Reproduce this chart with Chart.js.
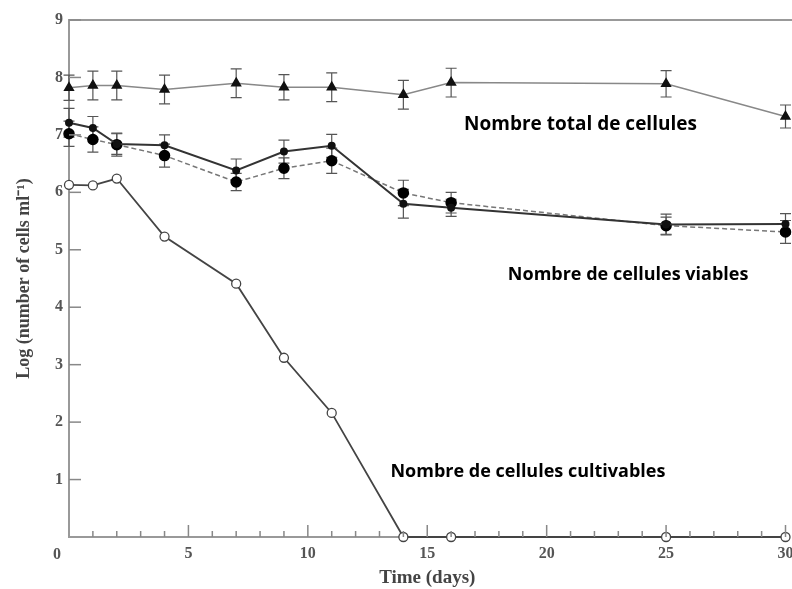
<!DOCTYPE html>
<html>
<head>
<meta charset="utf-8">
<script src="https://cdn.jsdelivr.net/npm/chart.js@4.4.1/dist/chart.umd.min.js"></script>
<style>
  html, body { margin: 0; padding: 0; background: #fff; overflow: hidden; }
  #wrap { width: 792px; height: 589px; position: relative; }
</style>
</head>
<body>
<div id="wrap"><canvas id="chart"></canvas></div>
<script>
// days of sampling
var days = [0, 1, 2, 4, 7, 9, 11, 14, 16, 25, 30];

// log(number of cells per ml)
var totalCells    = [7.82, 7.86, 7.86, 7.79, 7.90, 7.83, 7.83, 7.70, 7.91, 7.89, 7.32];
var totalErr      = [0.22, 0.25, 0.25, 0.25, 0.25, 0.22, 0.25, 0.25, 0.25, 0.23, 0.20];
var viableSolid   = [7.21, 7.12, 6.84, 6.82, 6.38, 6.71, 6.81, 5.80, 5.73, 5.44, 5.45];
var viableSolidErr= [0.25, 0.20, 0.18, 0.18, 0.20, 0.20, 0.20, 0.25, 0.15, 0.18, 0.18];
var viableDashed  = [7.02, 6.92, 6.83, 6.64, 6.18, 6.42, 6.55, 5.99, 5.82, 5.42, 5.31];
var viableDashedErr=[0.22, 0.22, 0.20, 0.20, 0.15, 0.18, 0.22, 0.22, 0.18, 0.15, 0.20];
var cultivable    = [6.13, 6.12, 6.24, 5.23, 4.41, 3.12, 2.16, 0, 0, 0, 0];

var yTicks = [0, 1, 2, 3, 4, 5, 6, 7, 8, 9];
var xTicks = [0, 5, 10, 15, 20, 25, 30];

var labelTexts = ["Nombre total de cellules", "Nombre de cellules viables", "Nombre de cellules cultivables"];

function pts(ys) {
	var out = [];
	for (var i = 0; i < days.length; i++) {
		out.push({ x: days[i], y: ys[i] });
	}
	return out;
}

var serif = "'Liberation Serif', 'Times New Roman', serif";

// error bars, inward ticks, top frame, origin label and text labels
var extras = {
	id: "extras",
	beforeDatasetsDraw: function(chart) {
		var ctx = chart.ctx;
		var xs = chart.scales.x, ys = chart.scales.y;
		ctx.save();
		ctx.strokeStyle = "#555";
		ctx.lineWidth = 1.2;
		chart.data.datasets.forEach(function(ds) {
			if (!ds.errors) return;
			ds.data.forEach(function(p, i) {
				var px = xs.getPixelForValue(p.x);
				var y1 = ys.getPixelForValue(p.y + ds.errors[i]);
				var y2 = ys.getPixelForValue(p.y - ds.errors[i]);
				ctx.beginPath();
				ctx.moveTo(px, y1); ctx.lineTo(px, y2);
				ctx.moveTo(px - 5.5, y1); ctx.lineTo(px + 5.5, y1);
				ctx.moveTo(px - 5.5, y2); ctx.lineTo(px + 5.5, y2);
				ctx.stroke();
			});
		});
		ctx.restore();
	},
	afterDraw: function(chart) {
		var ctx = chart.ctx;
		var a = chart.chartArea;
		var xs = chart.scales.x, ys = chart.scales.y;
		ctx.save();
		ctx.strokeStyle = "#999";
		ctx.lineWidth = 2;
		// top frame line
		ctx.beginPath();
		ctx.moveTo(a.left, a.top);
		ctx.lineTo(chart.width, a.top);
		ctx.stroke();
		// inward ticks on y
		ctx.strokeStyle = "#888";
		ctx.lineWidth = 1.5;
		yTicks.forEach(function(v) {
			if (v === 0) return;
			var py = ys.getPixelForValue(v);
			ctx.beginPath();
			ctx.moveTo(a.left, py); ctx.lineTo(a.left + 12, py);
			ctx.stroke();
		});
		// inward ticks on x, minor every day
		for (var d = 1; d <= 30; d++) {
			var px = xs.getPixelForValue(d);
			var len = (d % 5 === 0) ? 12 : 6;
			ctx.beginPath();
			ctx.moveTo(px, a.bottom); ctx.lineTo(px, a.bottom - len);
			ctx.stroke();
		}
		// shared origin label
		ctx.fillStyle = "#555";
		ctx.font = "bold 16px " + serif;
		ctx.textAlign = "center";
		ctx.textBaseline = "middle";
		ctx.fillText("0", a.left - 12, a.bottom + 18);

		// curve labels
		ctx.fillStyle = "#000";
		ctx.textAlign = "left";
		ctx.textBaseline = "alphabetic";
		var spots = [[16.54, 7.09, 19], [18.375, 4.48, 18], [13.46, 1.05, 18]];
		labelTexts.forEach(function(t, i) {
			ctx.font = "bold " + spots[i][2] + "px 'Open Sans', sans-serif";
			ctx.fillText(t, xs.getPixelForValue(spots[i][0]), ys.getPixelForValue(spots[i][1]));
		});
		ctx.restore();
	}
};

var ctx = document.getElementById("chart");

var data = {
	datasets : [
		{
			label : "Total",
			data : pts(totalCells),
			errors : totalErr,
			borderColor : "#888",
			borderWidth : 1.5,
			backgroundColor : "#111",
			pointBackgroundColor : "#111",
			pointBorderColor : "#111",
			pointStyle : "triangle",
			pointRadius : 5,
			showLine : true,
			clip : false
		},
		{
			label : "Viable (solid)",
			data : pts(viableSolid),
			errors : viableSolidErr,
			borderColor : "#333",
			borderWidth : 2,
			pointBackgroundColor : "#111",
			pointBorderColor : "#111",
			pointRadius : 3,
			showLine : true,
			clip : false
		},
		{
			label : "Viable (dashed)",
			data : pts(viableDashed),
			errors : viableDashedErr,
			borderColor : "#777",
			borderWidth : 1.5,
			borderDash : [5, 3],
			pointBackgroundColor : "#000",
			pointBorderColor : "#000",
			pointRadius : 5,
			showLine : true,
			clip : false
		},
		{
			label : "Cultivable",
			data : pts(cultivable),
			borderColor : "#444",
			borderWidth : 1.8,
			pointBackgroundColor : "#fff",
			pointBorderColor : "#444",
			pointBorderWidth : 1.3,
			pointRadius : 4.5,
			showLine : true,
			clip : false
		}
	]
};

var options = {
	responsive : true,
	maintainAspectRatio : false,
	animation : false,
	layout : { padding : { left : 0, right : 3, top : 20, bottom : 0 } },
	plugins : {
		legend : { display : false },
		tooltip : { enabled : false }
	},
	scales : {
		x : {
			type : "linear",
			min : 0,
			max : 30,
			afterBuildTicks : function(scale) {
				scale.ticks = xTicks.map(function(v) { return { value : v }; });
			},
			afterFit : function(scale) {
				scale.height = 52;
				scale.paddingLeft = 0;
				scale.paddingRight = 0;
			},
			grid : { display : false, drawTicks : false },
			border : { display : true, color : "#999", width : 2 },
			ticks : {
				padding : 7,
				color : "#555",
				font : { family : serif, size : 16, weight : "bold" },
				callback : function(v) { return v === 0 ? "" : v; }
			},
			title : {
				display : true,
				text : "Time (days)",
				color : "#444",
				font : { family : serif, size : 19, weight : "bold" },
				padding : { top : 0, bottom : 0 }
			}
		},
		y : {
			min : 0,
			max : 9,
			afterBuildTicks : function(scale) {
				scale.ticks = yTicks.map(function(v) { return { value : v }; });
			},
			afterFit : function(scale) {
				scale.width = 69;
			},
			grid : { display : false, drawTicks : false },
			border : { display : true, color : "#999", width : 2 },
			ticks : {
				padding : 6,
				color : "#555",
				font : { family : serif, size : 16, weight : "bold" },
				callback : function(v) { return v === 0 ? "" : v; }
			},
			title : {
				display : true,
				text : "Log (number of cells ml\u207B\u00B9)",
				color : "#444",
				font : { family : serif, size : 18, weight : "bold" },
				padding : { top : 14, bottom : 0 }
			}
		}
	}
};

var chart = new Chart(ctx, {
	type : "scatter",
	data : data,
	options : options,
	plugins : [extras]
});
</script>
</body>
</html>
